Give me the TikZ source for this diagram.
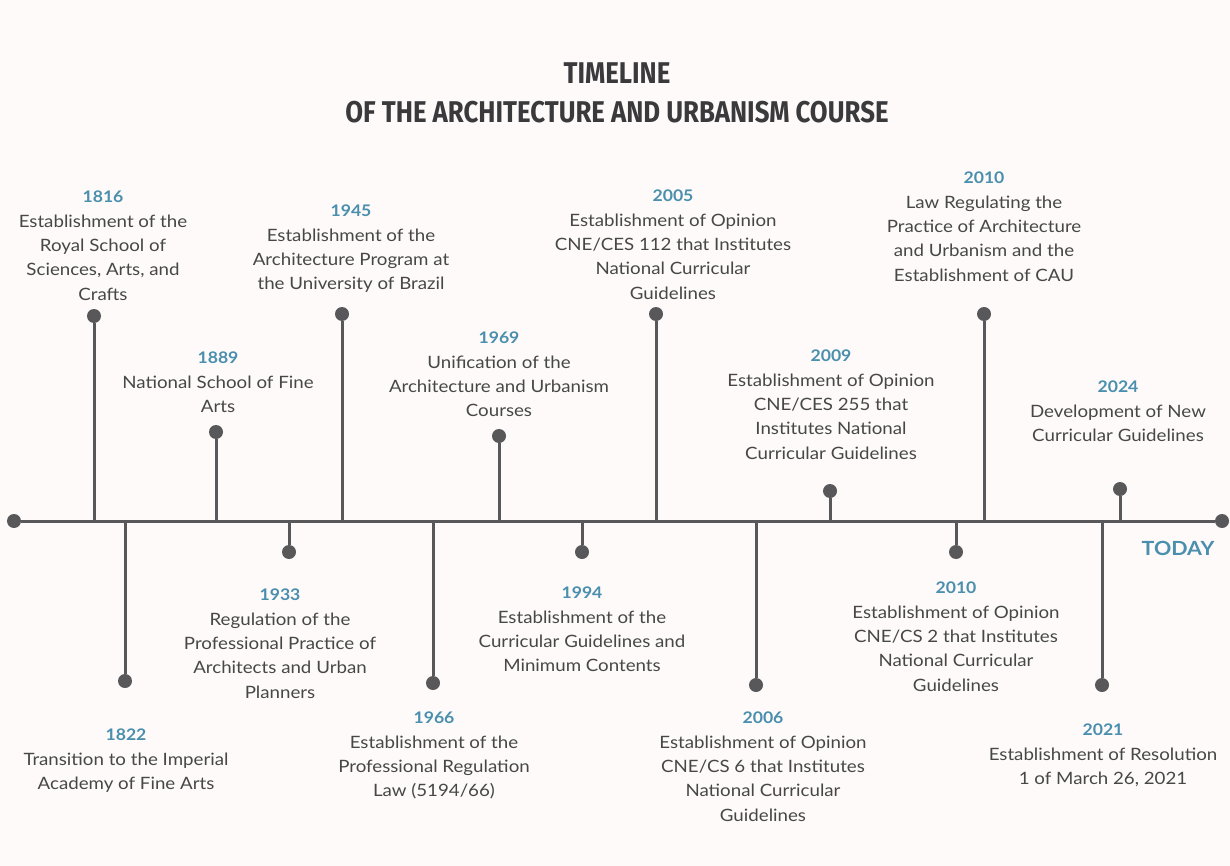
\documentclass[tikz,border=0pt]{standalone}
\usepackage{fontspec}
\setmainfont{Lato}[FakeStretch=1.1]
\newfontfamily\titlefont[FakeStretch=0.86]{Fira Sans}
\definecolor{bgc}{HTML}{FDFAF9}
\definecolor{linec}{HTML}{58585A}
\definecolor{yearc}{HTML}{4A8FAD}
\definecolor{textc}{HTML}{474747}
\definecolor{titlec}{HTML}{3A3A3D}
\tikzset{
  dotnode/.style={circle,fill=linec,inner sep=0pt,minimum size=14pt},
  stemline/.style={draw=linec,line width=3pt},
  axisline/.style={draw=linec,line width=3pt},
  evtext/.style={align=center,anchor=north,inner sep=0pt,text=textc,
    font=\fontsize{17}{24.3}\selectfont},
  titletext/.style={align=center,text=titlec,inner sep=0pt,
    font=\titlefont\bfseries\fontsize{30}{39}\selectfont}
}
\newcommand\tlev[7]{%
  % #1 id, #2 stem x, #3 dot y, #4 text x, #5 year y, #6 year, #7 text
  \coordinate (a#1) at (#2,521);
  \node[dotnode] (d#1) at (#2,#3) {};
  \draw[stemline] (a#1) -- (d#1);
  \node[evtext] (t#1) at (#4,#5-6) {{\bfseries\color{yearc}\fontsize{16}{24.3}\selectfont #6}\\#7};
}
\begin{document}
\begin{tikzpicture}[x=1pt,y=-1pt]
\fill[bgc] (0,0) rectangle (1230,866);
\useasboundingbox (0,0) rectangle (1230,866);
\node[titletext] (title) at (617,93) {TIMELINE\\OF THE ARCHITECTURE AND URBANISM COURSE};
\node[dotnode] (left) at (14,521) {};
\node[dotnode] (right) at (1222,521) {};
\draw[axisline] (left) -- (right);
\node[text=yearc,font=\bfseries\fontsize{19.5}{22}\selectfont,inner sep=0pt] (today) at (1178,548) {TODAY};
% upper
\tlev{u1816}{94}{316}{103}{197}{1816}{Establishment of the\\Royal School of\\Sciences, Arts, and\\Crafts}
\tlev{u1889}{216}{432}{218}{358}{1889}{National School of Fine\\Arts}
\tlev{u1945}{342}{314}{351}{211}{1945}{Establishment of the\\Architecture Program at\\the University of Brazil}
\tlev{u1969}{499}{436}{499}{338}{1969}{Unification of the\\Architecture and Urbanism\\Courses}
\tlev{u2005}{656}{314}{673}{196}{2005}{Establishment of Opinion\\CNE/CES 112 that Institutes\\National Curricular\\Guidelines}
\tlev{u2009}{830}{491}{831}{356}{2009}{Establishment of Opinion\\CNE/CES 255 that\\Institutes National\\Curricular Guidelines}
\tlev{u2010}{984}{314}{984}{178}{2010}{Law Regulating the\\Practice of Architecture\\and Urbanism and the\\Establishment of CAU}
\tlev{u2024}{1120}{489}{1118}{387}{2024}{Development of New\\Curricular Guidelines}
% lower
\tlev{l1822}{125}{681}{126}{735}{1822}{Transition to the Imperial\\Academy of Fine Arts}
\tlev{l1933}{289}{552}{280}{595}{1933}{Regulation of the\\Professional Practice of\\Architects and Urban\\Planners}
\tlev{l1966}{433}{683}{434}{718}{1966}{Establishment of the\\Professional Regulation\\Law (5194/66)}
\tlev{l1994}{582}{552}{582}{593}{1994}{Establishment of the\\Curricular Guidelines and\\Minimum Contents}
\tlev{l2006}{756}{685}{763}{718}{2006}{Establishment of Opinion\\CNE/CS 6 that Institutes\\National Curricular\\Guidelines}
\tlev{l2010}{956}{552}{956}{588}{2010}{Establishment of Opinion\\CNE/CS 2 that Institutes\\National Curricular\\Guidelines}
\tlev{l2021}{1102}{685}{1103}{730}{2021}{Establishment of Resolution\\1 of March 26, 2021}
\end{tikzpicture}
\end{document}
